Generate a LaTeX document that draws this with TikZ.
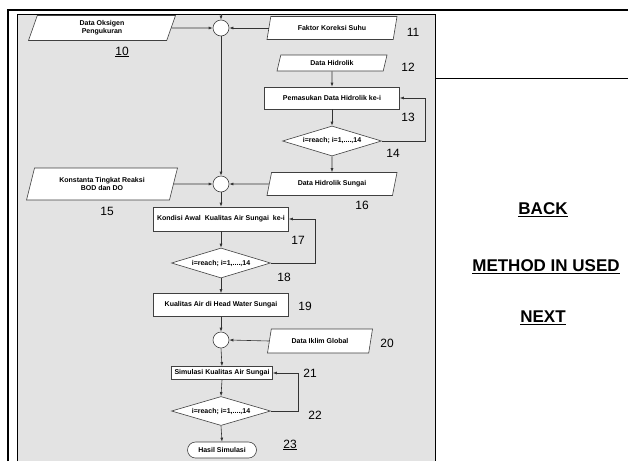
\documentclass[tikz,border=0pt]{standalone}
\usepackage{fontspec}
\setmainfont{Liberation Sans}
\usetikzlibrary{shapes.geometric,arrows.meta}
\newcommand{\boxfont}{\fontsize{7}{8}\selectfont\bfseries}
\newcommand{\menufont}{\fontsize{17}{19}\selectfont\bfseries}
\tikzset{
  data box/.style={
    trapezium, trapezium left angle=62, trapezium right angle=118,
    trapezium stretches body,
    draw=black!75, fill=white, line width=0.6pt,
    minimum width=#1, minimum height=23pt,
    align=center, inner sep=1pt, font=\boxfont
  },
  data box/.default=130pt,
  process box/.style={
    rectangle, draw=black!75, fill=white, line width=0.6pt,
    minimum width=#1, minimum height=23pt,
    align=center, inner sep=1pt, font=\boxfont
  },
  process box/.default=135pt,
  decision box/.style={
    diamond, aspect=3.3, draw=black!75, fill=white, line width=0.6pt,
    minimum width=99pt, minimum height=30pt,
    inner sep=0pt, font=\boxfont
  },
  junction/.style={
    circle, draw=black!75, fill=white, line width=0.6pt,
    minimum size=16pt, inner sep=0pt
  },
  terminal box/.style={
    rectangle, rounded corners=8pt, draw=black!75, fill=white, line width=0.6pt,
    minimum width=69pt, minimum height=16pt, font=\boxfont
  },
  step label/.style={font=\fontsize{12}{14}\selectfont},
  menu link/.style={font=\menufont},
  flow/.style={draw=black!80, line width=0.6pt, -{Latex[length=4pt,width=3pt]}}
}

\begin{document}
\begin{tikzpicture}[x=1pt, y=-1pt]
\useasboundingbox (0,0) rectangle (628,461);

% frame
\fill[gray!22] (17,14) rectangle (435,461);
\draw[line width=2.5pt] (8,461) -- (8,10) -- (628,10);
\draw[line width=1pt] (17,461) -- (17,14) -- (435,14) -- (435,461);
\draw[line width=0.8pt] (435,78) -- (628,78);

% inputs and junctions
\coordinate (top) at (221,14);
\node[junction] (j1) at (221,28) {};
\node[data box=147pt, minimum height=25pt] (dOks) at (102,28) {Data Oksigen\\Pengukuran};
\node[data box] (dFak) at (332,28) {Faktor Koreksi Suhu};
\node[data box=110pt, minimum height=16pt] (dHid) at (332,63) {Data Hidrolik};
\node[process box, minimum height=22pt] (pMas) at (332,98) {Pemasukan Data Hidrolik ke-i};
\node[decision box] (q1) at (332,141) {i=reach; i=1,....,14};
\node[data box] (dSun) at (332,184) {Data Hidrolik Sungai};
\node[junction] (j2) at (221,184) {};
\node[data box=151pt, minimum height=32pt] (dKon) at (102,184) {Konstanta Tingkat Reaksi\\BOD dan DO};
\node[process box, minimum height=24pt] (pKon) at (221,219) {Kondisi Awal\ \ Kualitas Air Sungai\ \ ke-i};
\node[decision box] (q2) at (221,263) {i=reach; i=1,....,14};
\node[process box] (pKua) at (221,305) {Kualitas Air di Head Water Sungai};
\node[junction] (j3) at (221,340) {};
\node[data box=105pt, minimum height=24pt] (dIkl) at (320,341) {Data Iklim Global};
\node[process box=101pt, minimum height=13pt] (pSim) at (222,373) {Simulasi Kualitas Air Sungai};
\node[decision box, minimum height=29pt] (q3) at (221,411) {i=reach; i=1,....,14};
\node[terminal box] (tHas) at (222,450) {Hasil Simulasi};

% step numbers
\node[step label] (n10) at (122,52) {\underline{10}};
\node[step label] (n11) at (413,32) {11};
\node[step label] (n12) at (408,67) {12};
\node[step label] (n13) at (408,117) {13};
\node[step label] (n14) at (393,153) {14};
\node[step label] (n15) at (107,211) {15};
\node[step label] (n16) at (362,205) {16};
\node[step label] (n17) at (298,240) {17};
\node[step label] (n18) at (284,277) {18};
\node[step label] (n19) at (305,306) {19};
\node[step label] (n20) at (387,343) {20};
\node[step label] (n21) at (310,373) {21};
\node[step label] (n22) at (315,415) {22};
\node[step label] (n23) at (290,445) {\underline{23}};

% connectors
\draw[flow] (top) -- (j1.north);
\draw[flow] (dOks.east) -- (j1.west);
\draw[flow] (dFak.west) -- (j1.east);
\draw[flow] (j1.south) -- (j2.north);
\draw[flow] (dHid.south) -- (pMas.north);
\draw[flow] (pMas.south) -- (q1.north);
\draw[flow] (q1.east) -- ++(43,0) |- (pMas.east);
\draw[flow] (q1.south) -- (dSun.north);
\draw[flow] (dSun.west) -- (j2.east);
\draw[flow] (dKon.east) -- (j2.west);
\draw[flow] (j2.south) -- (pKon.north);
\draw[flow] (pKon.south) -- (q2.north);
\draw[flow] (q2.east) -- ++(44,0) |- (pKon.east);
\draw[flow] (q2.south) -- (pKua.north);
\draw[flow] (pKua.south) -- (j3.north);
\draw[flow] (dIkl.west) -- (j3.east);
\draw[flow] (j3.south) -- (pSim.north);
\draw[flow] (pSim.south) -- (q3.north);
\draw[flow] (q3.east) -- ++(27,0) |- (pSim.east);
\draw[flow] (q3.south) -- (tHas.north);

% side menu
\node[menu link] (back) at (543,210) {\underline{BACK}};
\node[menu link] (method) at (546,267) {\underline{METHOD IN USED}};
\node[menu link] (next) at (543,318) {\underline{NEXT}};
\end{tikzpicture}
\end{document}
